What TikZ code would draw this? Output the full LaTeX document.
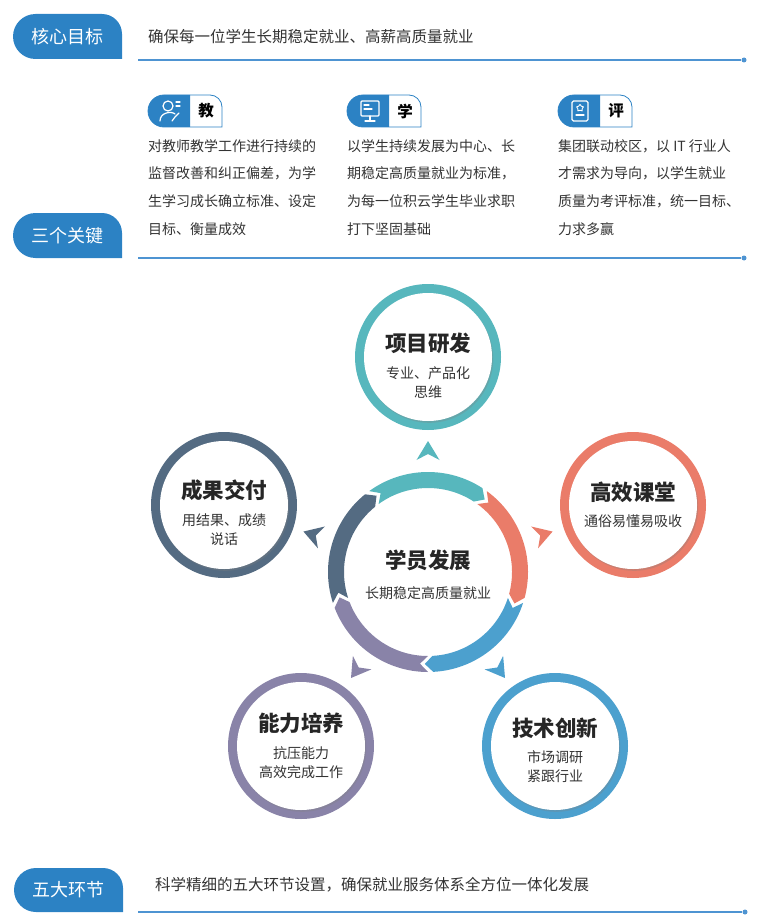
\documentclass[tikz,border=0pt]{standalone}
\usepackage{fontspec}
\setmainfont{Noto Sans CJK SC}
\usetikzlibrary{shapes.geometric,shadows}
\definecolor{tabblau}{HTML}{2C82C4}
\definecolor{linie}{HTML}{4E94D2}
\definecolor{tuerkis}{HTML}{57B7BD}
\definecolor{koralle}{HTML}{EA7C69}
\definecolor{hblau}{HTML}{4CA0CE}
\definecolor{lila}{HTML}{8983A8}
\definecolor{schiefer}{HTML}{546B82}
\definecolor{textgrau}{HTML}{333333}
\begin{document}
\begin{tikzpicture}[x=1pt, y=1pt,
  tab/.style={text=white, font=\fontsize{18}{18}\selectfont},
  zeile/.style={anchor=west, text=textgrau, inner sep=0, font=\fontsize{15.5}{15.5}\selectfont},
  spalte/.style={anchor=north west, align=left, text=textgrau, inner sep=0, font=\fontsize{14}{27.7}\selectfont},
  zeichen/.style={text=black, font=\bfseries\fontsize{15.5}{15.5}\selectfont},
  icon/.style={white, line width=1.2, line cap=round},
  ring/.style={circle, minimum size=146, inner sep=0},
  innen/.style={circle, fill=white, minimum size=128, inner sep=0,
    drop shadow={shadow xshift=1.2pt, shadow yshift=-1.8pt, opacity=0.3}},
  titel/.style={text=black!85, font=\bfseries\fontsize{21.5}{21.5}\selectfont},
  unter/.style={align=center, text=textgrau, font=\fontsize{14}{19}\selectfont},
  punkt/.style={circle, fill=linie, inner sep=0, minimum size=5},
  linienstil/.style={linie, line width=1.3}]

\useasboundingbox (0,0) rectangle (779,-923);

% Reiter links
\fill[tabblau] (122,-59) -- (35.5,-59) arc[start angle=270, end angle=90, radius=22.5] -- (102,-14) arc[start angle=90, end angle=0, radius=20] -- cycle;
\node[tab] (ziel) at (67,-37) {核心目标};
\fill[tabblau] (122,-258) -- (35.5,-258) arc[start angle=270, end angle=90, radius=22.5] -- (102,-213) arc[start angle=90, end angle=0, radius=20] -- cycle;
\node[tab] (kern) at (67,-236) {三个关键};
\fill[tabblau] (123,-912) -- (36,-912) arc[start angle=270, end angle=90, radius=22] -- (103,-868) arc[start angle=90, end angle=0, radius=20] -- cycle;
\node[tab] (fuenf) at (68,-890) {五大环节};

% Texte neben den Reitern
\node[zeile] (ziel-txt) at (148,-37) {确保每一位学生长期稳定就业、高薪高质量就业};
\node[zeile] (fuenf-txt) at (155,-885) {科学精细的五大环节设置，确保就业服务体系全方位一体化发展};

% Linien mit Punkt
\coordinate (l1) at (138,-60);
\node[punkt] (p1) at (744,-60) {};
\draw[linienstil] (l1) -- (p1);
\coordinate (l2) at (138,-258);
\node[punkt] (p2) at (744,-258) {};
\draw[linienstil] (l2) -- (p2);
\coordinate (l3) at (138,-912);
\node[punkt] (p3) at (745,-912) {};
\draw[linienstil] (l3) -- (p3);

% kleine Reiter: jiao
\draw[tabblau, line width=0.8, fill=white] (164,-95) -- (210,-95) arc[start angle=90, end angle=0, radius=12] -- (222,-127) -- (164,-127) arc[start angle=270, end angle=90, radius=16] -- cycle;
\fill[tabblau] (190,-95) -- (164,-95) arc[start angle=90, end angle=270, radius=16] -- (190,-127) -- cycle;
\draw[icon] (168,-106) circle (5);
\draw[icon] (160,-121) .. controls (160,-112) and (172,-111) .. (175,-114);
\draw[icon] (176,-102) -- (180,-102);
\draw[icon] (176,-106) -- (180,-106);
\draw[icon] (172,-121) -- (175,-117) -- (179,-113);
\node[zeichen] (jiao) at (206,-111) {教};

% xue
\draw[tabblau, line width=0.8, fill=white] (363,-95) -- (409,-95) arc[start angle=90, end angle=0, radius=12] -- (421,-127) -- (363,-127) arc[start angle=270, end angle=90, radius=16] -- cycle;
\fill[tabblau] (389,-95) -- (363,-95) arc[start angle=90, end angle=270, radius=16] -- (389,-127) -- cycle;
\draw[icon, rounded corners=1] (361,-101) rectangle (379,-116);
\draw[icon] (370,-116) -- (370,-121);
\draw[icon] (365,-121) -- (375,-121);
\draw[icon] (364,-105) -- (369,-105);
\draw[icon] (364,-109) -- (372,-109);
\node[zeichen] (xue) at (405,-111) {学};

% ping
\draw[tabblau, line width=0.8, fill=white] (574,-95) -- (620,-95) arc[start angle=90, end angle=0, radius=12] -- (632,-127) -- (574,-127) arc[start angle=270, end angle=90, radius=16] -- cycle;
\fill[tabblau] (600,-95) -- (574,-95) arc[start angle=90, end angle=270, radius=16] -- (600,-127) -- cycle;
\draw[icon, rounded corners=1.5] (572,-101) rectangle (588,-121);
\node[star, star points=5, draw=white, line width=0.9, minimum size=7, inner sep=0] (stern) at (580,-108) {};
\draw[icon] (576,-115) -- (584,-115);
\node[zeichen] (ping) at (616,-111) {评};

% Spaltentexte
\node[spalte] (jiao-txt) at (148,-139) {对教师教学工作进行持续的\\监督改善和纠正偏差，为学\\生学习成长确立标准、设定\\目标、衡量成效};
\node[spalte] (xue-txt) at (347,-139) {以学生持续发展为中心、长\\期稳定高质量就业为标准，\\为每一位积云学生毕业求职\\打下坚固基础};
\node[spalte] (ping-txt) at (558,-139) {集团联动校区，以 IT 行业人\\才需求为导向，以学生就业\\质量为考评标准，统一目标、\\力求多赢};

% Ring in der Mitte
\begin{scope}[shift={(428,-572)}]
\fill[tuerkis] (126:100) arc[start angle=126, end angle=57, radius=100] -- (52:92) -- (57:84) arc[start angle=57, end angle=126, radius=84] -- (121:92) -- cycle;
\fill[koralle] (54:100) arc[start angle=54, end angle=-15, radius=100] -- (-20:92) -- (-15:84) arc[start angle=-15, end angle=54, radius=84] -- (49:92) -- cycle;
\fill[hblau] (-18:100) arc[start angle=-18, end angle=-87, radius=100] -- (-92:92) -- (-87:84) arc[start angle=-87, end angle=-18, radius=84] -- (-23:92) -- cycle;
\fill[lila] (-90:100) arc[start angle=-90, end angle=-159, radius=100] -- (-164:92) -- (-159:84) arc[start angle=-159, end angle=-90, radius=84] -- (-95:92) -- cycle;
\fill[schiefer] (-162:100) arc[start angle=-162, end angle=-231, radius=100] -- (-236:92) -- (-231:84) arc[start angle=-231, end angle=-162, radius=84] -- (-167:92) -- cycle;

% Pfeilspitzen nach aussen
\fill[tuerkis, rotate=90] (131,0) -- (112,11.5) -- (118,0) -- (112,-11.5) -- cycle;
\fill[koralle, rotate=18] (131,0) -- (112,11.5) -- (118,0) -- (112,-11.5) -- cycle;
\fill[hblau, rotate=-54] (131,0) -- (112,11.5) -- (118,0) -- (112,-11.5) -- cycle;
\fill[lila, rotate=-126] (131,0) -- (112,11.5) -- (118,0) -- (112,-11.5) -- cycle;
\fill[schiefer, rotate=162] (131,0) -- (112,11.5) -- (118,0) -- (112,-11.5) -- cycle;
\end{scope}

\node[titel] (mitte) at (428,-560) {学员发展};
\node[unter] (mitte-u) at (428,-593) {长期稳定高质量就业};

% fuenf Kreise
\node[ring, fill=tuerkis] (proj) at (428,-357) {};
\node[innen] (proj-i) at (proj) {};
\node[titel] (proj-t) at (428,-343) {项目研发};
\node[unter] (proj-u) at (428,-382.5) {专业、产品化\\思维};

\node[ring, fill=koralle] (klasse) at (633,-505) {};
\node[innen] (klasse-i) at (klasse) {};
\node[titel] (klasse-t) at (633,-492) {高效课堂};
\node[unter] (klasse-u) at (633,-521) {通俗易懂易吸收};

\node[ring, fill=hblau] (tech) at (555,-746) {};
\node[innen] (tech-i) at (tech) {};
\node[titel] (tech-t) at (555,-728) {技术创新};
\node[unter] (tech-u) at (555,-766.5) {市场调研\\紧跟行业};

\node[ring, fill=lila] (kraft) at (301,-746) {};
\node[innen] (kraft-i) at (kraft) {};
\node[titel] (kraft-t) at (301,-723) {能力培养};
\node[unter] (kraft-u) at (301,-763) {抗压能力\\高效完成工作};

\node[ring, fill=schiefer] (ergeb) at (224,-505) {};
\node[innen] (ergeb-i) at (ergeb) {};
\node[titel] (ergeb-t) at (224,-490) {成果交付};
\node[unter] (ergeb-u) at (224,-530) {用结果、成绩\\说话};

\end{tikzpicture}
\end{document}
